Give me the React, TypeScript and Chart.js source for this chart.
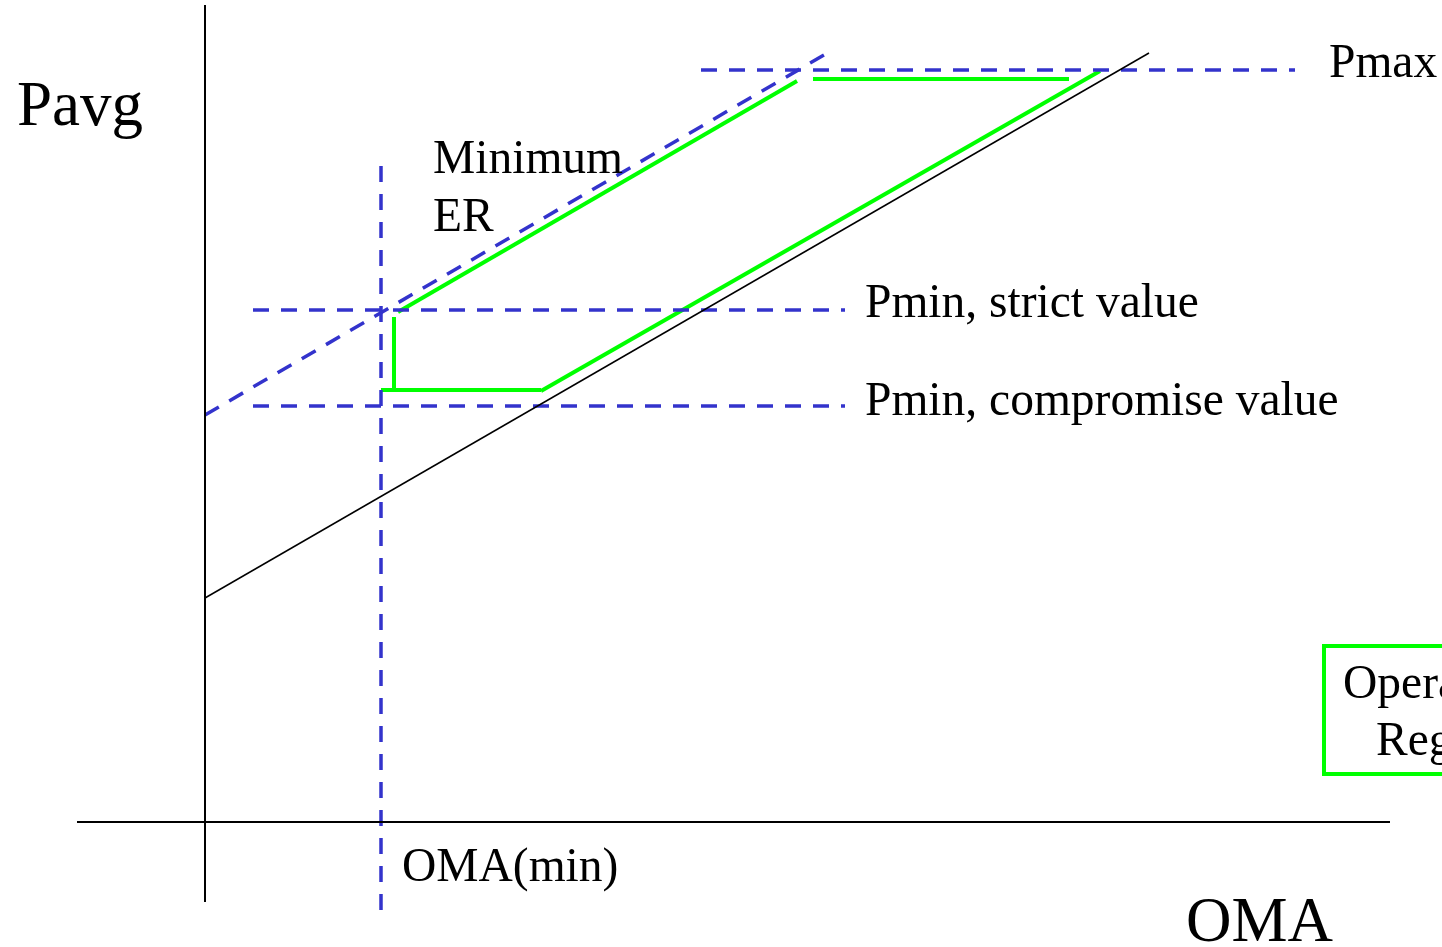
import React, { useEffect, useRef } from "react";
import { Chart, registerables } from "chart.js";

Chart.register(...registerables);

// Data space: origin at the axes' intersection, x = OMA, y = Pavg (arbitrary units)
const xRange = [-2.05, 12.37];
const yRange = [-1.25, 8.22];

const xAxisLine = [{ x: -1.28, y: 0 }, { x: 11.85, y: 0 }];
const yAxisLine = [{ x: 0, y: -0.8 }, { x: 0, y: 8.17 }];

const pavgLine = [{ x: 0, y: 2.24 }, { x: 9.44, y: 7.69 }];
const minErLine = [{ x: 0, y: 4.07 }, { x: 6.19, y: 7.67 }];
const pmaxLine = [{ x: 4.96, y: 7.52 }, { x: 10.9, y: 7.52 }];
const pminStrictLine = [{ x: 0.48, y: 5.12 }, { x: 6.4, y: 5.12 }];
const pminCompromiseLine = [{ x: 0.48, y: 4.16 }, { x: 6.4, y: 4.16 }];
const omaMinLine = [{ x: 1.76, y: -0.88 }, { x: 1.76, y: 6.56 }];

const greenUpperDiag = [{ x: 1.93, y: 5.1 }, { x: 5.92, y: 7.41 }];
const greenTop = [{ x: 6.08, y: 7.43 }, { x: 8.64, y: 7.43 }];
const greenLowerDiag = [{ x: 3.36, y: 4.31 }, { x: 8.95, y: 7.51 }];
const greenVertical = [{ x: 1.89, y: 5.05 }, { x: 1.89, y: 4.32 }];
const greenBottom = [{ x: 1.76, y: 4.32 }, { x: 3.36, y: 4.32 }];

const legendBox = [
  { x: 13, y: 1.76 },
  { x: 11.19, y: 1.76 },
  { x: 11.19, y: 0.48 },
  { x: 13, y: 0.48 },
];

const labelTexts = [
  "Pavg",
  "Minimum",
  "ER",
  "Pmax",
  "Pmin, strict value",
  "Pmin, compromise value",
  "OMA(min)",
  "OMA",
  "Operating",
  "Region",
];
const labelX = [-1.88, 2.28, 2.28, 11.24, 6.6, 6.6, 1.97, 9.81, 11.38, 11.71];
const labelY = [6.97, 6.49, 5.91, 7.45, 5.05, 4.07, -0.59, -1.19, 1.24, 0.67];
const labelSize = [63, 47.5, 47.5, 47.5, 47.5, 47.5, 47.5, 63, 47.5, 47.5];

const BLUE = "#3333CC";
const GREEN = "#00FF00";

function seg(data: { x: number; y: number }[], color: string, width: number, dash: number[] = []) {
  return {
    data,
    showLine: true,
    borderColor: color,
    backgroundColor: color,
    borderWidth: width,
    borderDash: dash,
    borderCapStyle: "butt" as const,
    pointRadius: 0,
    fill: false,
    tension: 0,
  };
}

const labelPlugin = {
  id: "textLabels",
  afterDatasetsDraw(chart: any) {
    const { ctx, scales } = chart;
    ctx.save();
    ctx.fillStyle = "#000";
    ctx.textAlign = "left";
    ctx.textBaseline = "alphabetic";
    labelTexts.forEach((t, i) => {
      ctx.font = `${labelSize[i]}px "Liberation Serif", "Times New Roman", serif`;
      ctx.fillText(t, scales.x.getPixelForValue(labelX[i]), scales.y.getPixelForValue(labelY[i]));
    });
    ctx.restore();
  },
};

export default function App() {
  const ref = useRef<HTMLCanvasElement | null>(null);
  useEffect(() => {
    document.body.style.margin = "0";
    if (!ref.current) return;
    const chart = new Chart(ref.current, {
      type: "scatter",
      data: {
        datasets: [
          seg(xAxisLine, "#000", 2),
          seg(yAxisLine, "#000", 2),
          seg(pavgLine, "#000", 1.5),
          seg(minErLine, BLUE, 3.5, [16, 12]),
          seg(pmaxLine, BLUE, 3.5, [16, 12]),
          seg(pminStrictLine, BLUE, 3.5, [16, 12]),
          seg(pminCompromiseLine, BLUE, 3.5, [16, 12]),
          seg(omaMinLine, BLUE, 3.5, [16, 12]),
          seg(greenUpperDiag, GREEN, 4),
          seg(greenTop, GREEN, 4),
          seg(greenLowerDiag, GREEN, 4),
          seg(greenVertical, GREEN, 4),
          seg(greenBottom, GREEN, 4),
          seg(legendBox, GREEN, 4),
        ] as any,
      },
      options: {
        responsive: false,
        animation: false,
        events: [],
        layout: { padding: 0 },
        plugins: { legend: { display: false }, tooltip: { enabled: false } },
        scales: {
          x: { type: "linear", min: xRange[0], max: xRange[1], display: false },
          y: { type: "linear", min: yRange[0], max: yRange[1], display: false },
        },
      },
      plugins: [labelPlugin],
    });
    return () => chart.destroy();
  }, []);
  return (
    <div style={{ width: 1442, height: 947, background: "#fff" }}>
      <canvas ref={ref} width={1442} height={947} style={{ display: "block" }} />
    </div>
  );
}
